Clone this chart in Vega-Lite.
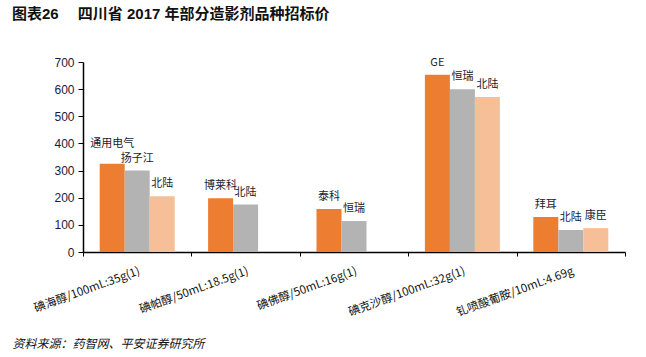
{
  "$schema": "https://vega.github.io/schema/vega-lite/v6.json",
  "autosize": {"type": "none"},
  "width": 542,
  "height": 190,
  "padding": {"left": 83, "top": 62, "right": 21, "bottom": 105},
  "background": "white",
  "title": {
    "text": "图表26\u2003 四川省 2017 年部分造影剂品种招标价",
    "anchor": "start",
    "frame": "group",
    "dx": -71,
    "offset": 34,
    "font": "Liberation Sans, Noto Sans CJK SC",
    "fontSize": 15,
    "fontWeight": "bold",
    "color": "#111111"
  },
  "data": {
    "values": [
      {"product": "碘海醇/100mL:35g(1)", "series": "s1", "value": 325, "company": "通用电气"},
      {"product": "碘海醇/100mL:35g(1)", "series": "s2", "value": 300, "company": "扬子江"},
      {"product": "碘海醇/100mL:35g(1)", "series": "s3", "value": 205, "company": "北陆"},
      {"product": "碘帕醇/50mL:18.5g(1)", "series": "s1", "value": 198, "company": "博莱科"},
      {"product": "碘帕醇/50mL:18.5g(1)", "series": "s2", "value": 175, "company": "北陆"},
      {"product": "碘佛醇/50mL:16g(1)", "series": "s1", "value": 158, "company": "泰科"},
      {"product": "碘佛醇/50mL:16g(1)", "series": "s2", "value": 114, "company": "恒瑞"},
      {"product": "碘克沙醇/100mL:32g(1)", "series": "s1", "value": 653, "company": "GE"},
      {"product": "碘克沙醇/100mL:32g(1)", "series": "s2", "value": 600, "company": "恒瑞"},
      {"product": "碘克沙醇/100mL:32g(1)", "series": "s3", "value": 571, "company": "北陆"},
      {"product": "钆喷酸葡胺/10mL:4.69g", "series": "s1", "value": 129, "company": "拜耳"},
      {"product": "钆喷酸葡胺/10mL:4.69g", "series": "s2", "value": 81, "company": "北陆"},
      {"product": "钆喷酸葡胺/10mL:4.69g", "series": "s3", "value": 88, "company": "康臣"}
    ]
  },
  "encoding": {
    "x": {
      "field": "product",
      "type": "nominal",
      "sort": null,
      "scale": {"paddingInner": 0, "paddingOuter": 0},
      "axis": {
        "title": "资料来源：药智网、平安证券研究所",
        "titleX": -71,
        "titleY": 91,
        "titleAlign": "left",
        "titleAnchor": "start",
        "titleBaseline": "middle",
        "titleFont": "Noto Sans CJK SC",
        "titleFontSize": 12,
        "titleFontStyle": "italic",
        "titleFontWeight": "normal",
        "titleColor": "#111111",
        "labelAngle": -20,
        "labelAlign": "right",
        "labelBaseline": "top",
        "labelPadding": 9,
        "labelFont": "Noto Sans CJK SC",
        "labelFontSize": 11.5,
        "labelColor": "#111111",
        "tickBand": "extent",
        "tickSize": 4,
        "tickColor": "#000000",
        "domainColor": "#000000",
        "domainWidth": 1.5,
        "labelOverlap": false
      }
    },
    "xOffset": {
      "field": "series",
      "type": "nominal",
      "scale": {"domain": ["s1", "s2", "s3"], "paddingInner": 0, "paddingOuter": 0.668}
    },
    "y": {
      "field": "value",
      "type": "quantitative",
      "scale": {"domain": [0, 700], "nice": false},
      "axis": {
        "title": null,
        "values": [0, 100, 200, 300, 400, 500, 600, 700],
        "grid": false,
        "tickSize": 5,
        "tickColor": "#000000",
        "domainColor": "#000000",
        "domainWidth": 1.5,
        "labelFont": "Liberation Sans",
        "labelFontSize": 12,
        "labelColor": "#1a1a40",
        "labelPadding": 4
      }
    }
  },
  "layer": [
    {
      "mark": {"type": "bar"},
      "encoding": {
        "color": {
          "field": "series",
          "type": "nominal",
          "scale": {"domain": ["s1", "s2", "s3"], "range": ["#ED7D31", "#B3B3B3", "#F7BF97"]},
          "legend": null
        }
      }
    },
    {
      "transform": [{"filter": "datum.company !== '通用电气'"}],
      "mark": {
        "type": "text",
        "baseline": "middle",
        "align": "center",
        "dy": -12,
        "font": "Noto Sans CJK SC",
        "fontSize": 11,
        "color": "#1a1a30"
      },
      "encoding": {"text": {"field": "company", "type": "nominal"}}
    },
    {
      "transform": [{"filter": "datum.company === '通用电气'"}],
      "mark": {
        "type": "text",
        "baseline": "middle",
        "align": "center",
        "dy": -20,
        "font": "Noto Sans CJK SC",
        "fontSize": 11,
        "color": "#1a1a30"
      },
      "encoding": {"text": {"field": "company", "type": "nominal"}}
    }
  ],
  "config": {"view": {"stroke": null}}
}
